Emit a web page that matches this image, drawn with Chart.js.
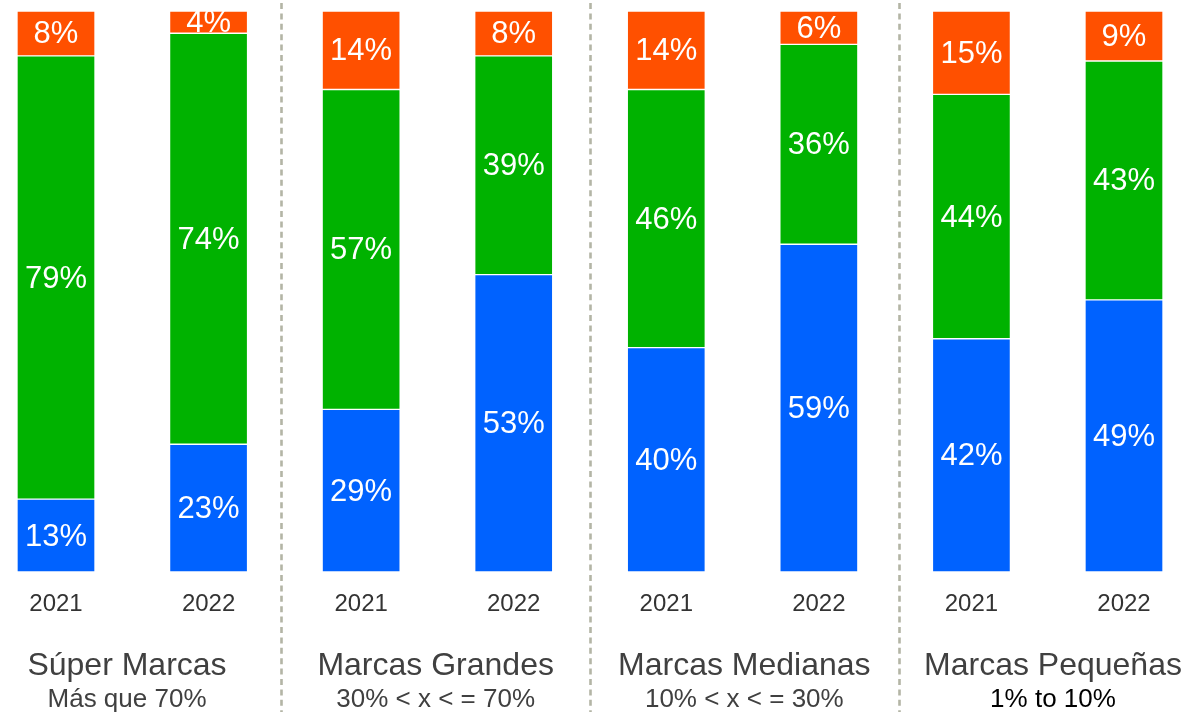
<!DOCTYPE html>
<html>
<head>
<meta charset="utf-8">
<script src="https://cdn.jsdelivr.net/npm/chart.js@4"></script>
<style>
  html, body { margin: 0; padding: 0; background: #ffffff; }
  #wrap { width: 1186px; height: 712px; position: relative; }
</style>
</head>
<body>
<div id="wrap"><canvas id="c" width="1186" height="712"></canvas></div>
<script>
// Years shown under each bar
const years = ['2021', '2022', '2021', '2022', '2021', '2022', '2021', '2022'];
// Brand-size groups (two bars each) and their share ranges
const groups = ['Súper Marcas', 'Marcas Grandes', 'Marcas Medianas', 'Marcas Pequeñas'];
const ranges = ['Más que 70%', '30% < x < = 70%', '10% < x < = 30%', '1% to 10%'];
// Segment values in %, bottom to top
const blueValues = [13, 23, 29, 53, 40, 59, 42, 49];
const greenValues = [79, 74, 57, 39, 46, 36, 44, 43];
const orangeValues = [8, 4, 14, 8, 14, 6, 15, 9];

const FONT = "'Liberation Sans', Arial, sans-serif";
const rangeColors = ['#404040', '#404040', '#404040', '#000000'];

// Each bar is shown as a full 100% column
const totals = blueValues.map((v, i) => v + greenValues[i] + orangeValues[i]);
const share = arr => arr.map((v, i) => v / totals[i] * 100);

const seriesDefs = [
  { values: blueValues, color: '#0062ff' },
  { values: greenValues, color: '#00b200' },
  { values: orangeValues, color: '#ff5000' }
];

const datasets = seriesDefs.map(s => ({
  data: share(s.values),
  rawValues: s.values,
  backgroundColor: s.color,
  borderColor: 'rgba(255,255,255,0.3)',
  borderWidth: 1,
  borderSkipped: false,
  barThickness: 78,
  clip: false
}));

// White percentage text in the middle of each segment
const segmentLabels = {
  id: 'segmentLabels',
  afterDatasetsDraw(chart) {
    const ctx = chart.ctx;
    ctx.save();
    ctx.fillStyle = '#ffffff';
    ctx.font = '31px ' + FONT;
    ctx.textAlign = 'center';
    ctx.textBaseline = 'middle';
    chart.data.datasets.forEach((ds, di) => {
      const meta = chart.getDatasetMeta(di);
      meta.data.forEach((bar, i) => {
        const cy = (bar.y + bar.base) / 2;
        ctx.fillText(ds.rawValues[i] + '%', bar.x, cy + 1.5);
      });
    });
    ctx.restore();
  }
};

// Group titles, share ranges and dashed dividers between groups
const groupDecor = {
  id: 'groupDecor',
  afterDraw(chart) {
    const ctx = chart.ctx;
    const x = chart.scales.x;
    const bottom = chart.chartArea.bottom;
    const step = 2.023;
    ctx.save();
    // dividers
    [3.5 - step, 3.5, 3.5 + step].forEach(v => {
      const px = Math.round(x.getPixelForValue(v)) + 0.5;
      ctx.beginPath();
      ctx.strokeStyle = '#b3b5a5';
      ctx.lineWidth = 2.6;
      ctx.setLineDash([6, 4.4]);
      ctx.moveTo(px, 3);
      ctx.lineTo(px, chart.height);
      ctx.stroke();
    });
    ctx.setLineDash([]);
    ctx.textAlign = 'center';
    ctx.textBaseline = 'middle';
    groups.forEach((g, gi) => {
      const cx = x.getPixelForValue(3.5 + step * (gi - 1.5));
      ctx.fillStyle = '#404040';
      ctx.font = '32px ' + FONT;
      ctx.fillText(g, cx, bottom + 94);
      ctx.fillStyle = rangeColors[gi];
      ctx.font = '26px ' + FONT;
      ctx.fillText(ranges[gi], cx, bottom + 128);
    });
    ctx.restore();
  }
};

new Chart(document.getElementById('c'), {
  type: 'bar',
  data: { labels: years, datasets },
  options: {
    responsive: false,
    animation: false,
    events: [],
    layout: { padding: { top: 11, left: 56, right: 62, bottom: 0 } },
    plugins: { legend: { display: false }, tooltip: { enabled: false } },
    scales: {
      x: {
        stacked: true,
        offset: false,
        grid: { display: false, drawTicks: false },
        border: { display: false },
        ticks: {
          color: '#333333',
          font: { family: FONT, size: 24 },
          padding: 18,
          maxRotation: 0,
          autoSkip: false
        },
        afterFit(scale) { scale.height = 140; }
      },
      y: {
        stacked: true,
        min: 0,
        max: 100,
        display: false
      }
    }
  },
  plugins: [segmentLabels, groupDecor]
});
</script>
</body>
</html>
